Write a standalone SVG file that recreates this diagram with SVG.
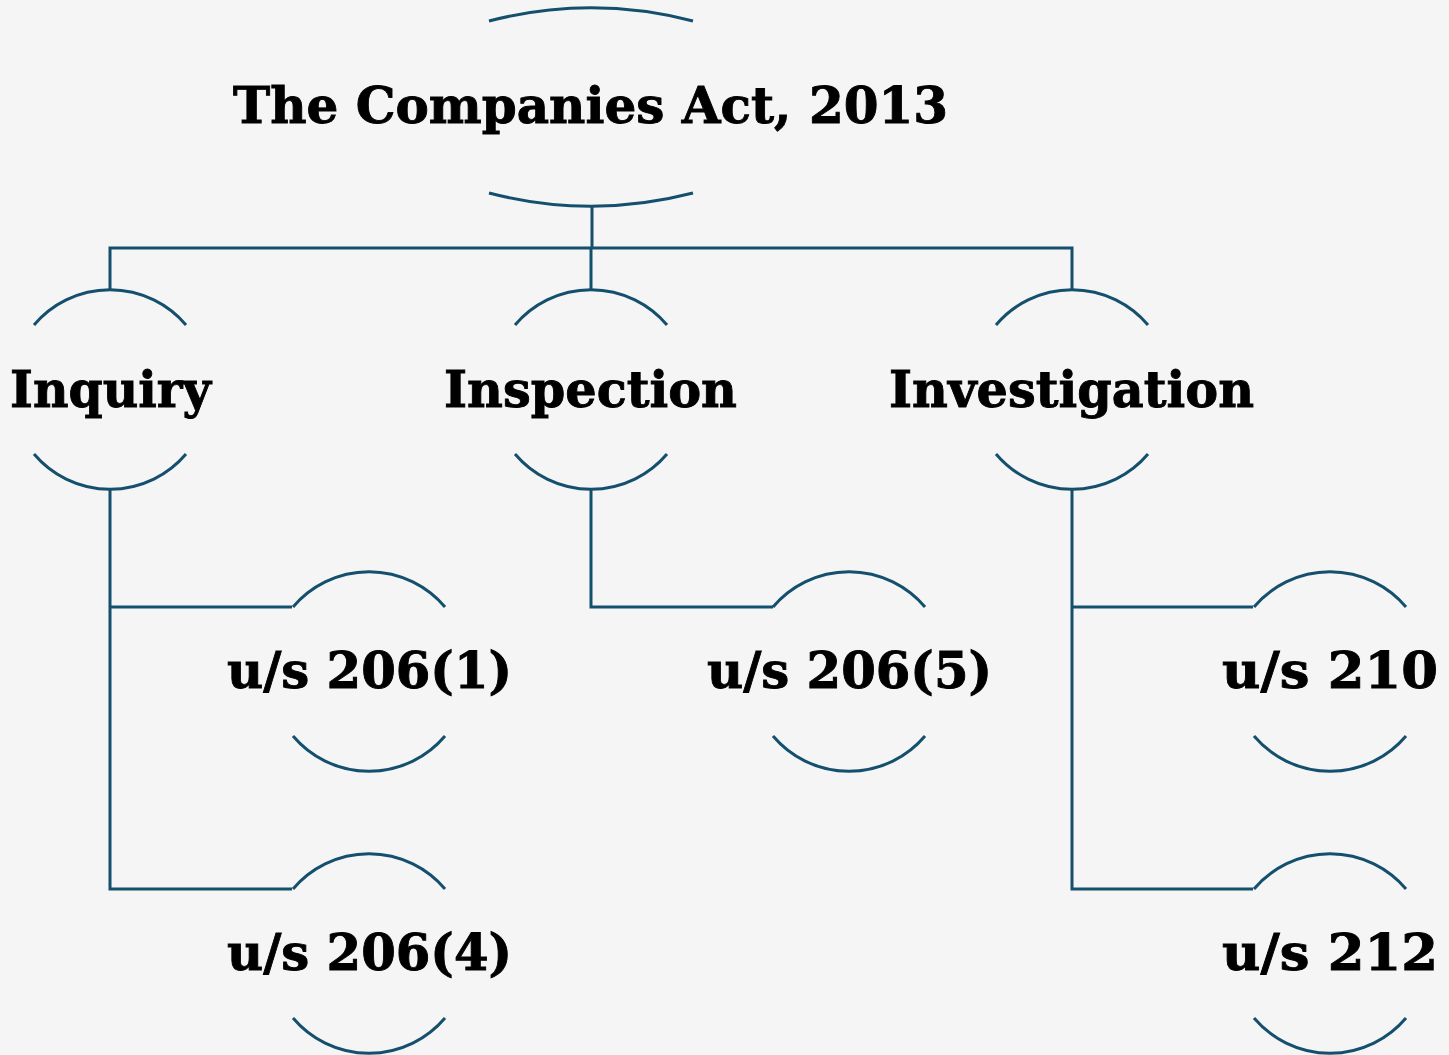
<svg xmlns="http://www.w3.org/2000/svg" width="1449" height="1055" viewBox="0 0 1449 1055">
<style>
.arc{fill:none;stroke:#14506e;stroke-width:3}
.con{fill:none;stroke:#14506e;stroke-width:3}
.lbl{font-family:"DejaVu Serif","Liberation Serif",serif;font-weight:bold;font-size:51px;fill:#000;stroke:#000;stroke-width:0.9;text-anchor:middle}
</style>
<defs>
<g id="shape">
<path class="arc" d="M-76,-64.5 A99.5,99.5 0 0 1 76,-64.5"/>
<path class="arc" d="M-76,64.5 A99.5,99.5 0 0 0 76,64.5"/>
</g>
</defs>
<rect width="1449" height="1055" fill="#f5f5f5"/>
<g id="connectors">
<path class="con" d="M592,207 V248 M110,290 V248 H1072 V290 M591,248 V290"/>
<path class="con" d="M110,489 V889 H292 M110,607 H292"/>
<path class="con" d="M591,489 V607 H773"/>
<path class="con" d="M1072,489 V889 H1253 M1072,607 H1253"/>
</g>
<g id="node-act">
<path class="arc" d="M489,21 A406,406 0 0 1 693,21"/>
<path class="arc" d="M489,193 A406,406 0 0 0 693,193"/>
<text class="lbl" x="590.5" y="123" textLength="715" lengthAdjust="spacingAndGlyphs">The Companies Act, 2013</text>
</g>
<g id="node-inquiry" transform="translate(110,389.5)">
<use href="#shape"/>
<text class="lbl" x="0.5" y="17.5" textLength="201" lengthAdjust="spacingAndGlyphs">Inquiry</text>
</g>
<g id="node-inspection" transform="translate(591,389.5)">
<use href="#shape"/>
<text class="lbl" x="-0.5" y="17.5" textLength="293" lengthAdjust="spacingAndGlyphs">Inspection</text>
</g>
<g id="node-investigation" transform="translate(1072,389.5)">
<use href="#shape"/>
<text class="lbl" x="-0.5" y="17.5" textLength="365" lengthAdjust="spacingAndGlyphs">Investigation</text>
</g>
<g id="node-206-1" transform="translate(369,671.5)">
<use href="#shape"/>
<text class="lbl" x="0.5" y="16.5" textLength="285" lengthAdjust="spacingAndGlyphs">u/s 206(1)</text>
</g>
<g id="node-206-4" transform="translate(369,953.5)">
<use href="#shape"/>
<text class="lbl" x="0.5" y="16.5" textLength="285" lengthAdjust="spacingAndGlyphs">u/s 206(4)</text>
</g>
<g id="node-206-5" transform="translate(849,671.5)">
<use href="#shape"/>
<text class="lbl" x="0.5" y="16.5" textLength="285" lengthAdjust="spacingAndGlyphs">u/s 206(5)</text>
</g>
<g id="node-210" transform="translate(1330,671.5)">
<use href="#shape"/>
<text class="lbl" x="0" y="16.5" textLength="216" lengthAdjust="spacingAndGlyphs">u/s 210</text>
</g>
<g id="node-212" transform="translate(1330,953.5)">
<use href="#shape"/>
<text class="lbl" x="0" y="16.5" textLength="216" lengthAdjust="spacingAndGlyphs">u/s 212</text>
</g>
</svg>
